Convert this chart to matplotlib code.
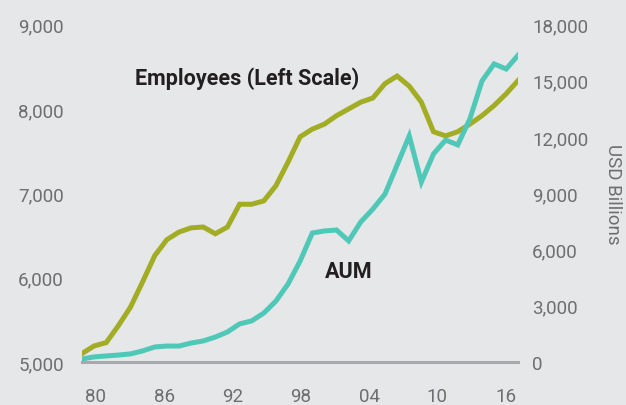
import matplotlib
matplotlib.use("Agg")
import matplotlib.pyplot as plt
import numpy as np

# employees (left scale) and AUM in USD billions (right scale), one value per year
employees = [5100, 5190, 5230, 5430, 5650, 5950, 6260, 6450, 6540, 6590,
             6600, 6520, 6600, 6870, 6870, 6910, 7090, 7370, 7670, 7760,
             7820, 7920, 8000, 8080, 8130, 8300, 8390, 8270, 8080, 7730,
             7680, 7730, 7820, 7920, 8040, 8180, 8340]
aum = [160, 270, 320, 370, 430, 590, 800, 850, 850, 1010,
       1120, 1330, 1600, 2030, 2190, 2610, 3250, 4160, 5390, 6880,
       6990, 7040, 6460, 7470, 8160, 8960, 10510, 12060, 9600, 11100,
       11840, 11580, 12960, 14990, 15900, 15630, 16380]
tick_labels = ["80", "86", "92", "98", "04", "10", "16"]
left_ticks = [5000, 6000, 7000, 8000, 9000]
right_ticks = [0, 3000, 6000, 9000, 12000, 15000, 18000]

bg = "#E6E7E8"
olive = "#A2AD24"
teal = "#4FC8B8"
grey = "#6D6E71"

plt.rcParams["font.family"] = ["Roboto", "DejaVu Sans"]

fig = plt.figure(figsize=(6.26, 4.06), dpi=100, facecolor=bg)
ax = fig.add_axes([0.131, 0.106, 0.697, 0.831], facecolor=bg)
ax2 = ax.twinx()

x = np.arange(len(employees))
ax.plot(x, employees, color=olive, lw=3.6, solid_joinstyle="miter", zorder=3)
ax2.plot(x, aum, color=teal, lw=3.6, solid_joinstyle="miter", zorder=3)

ax.set_xlim(0, len(employees) - 1)
ax.set_ylim(5000, 9000)
ax2.set_ylim(0, 18000)

ax.set_yticks(left_ticks)
ax.set_yticklabels([f"{v:,}" for v in left_ticks])
ax2.set_yticks(right_ticks)
ax2.set_yticklabels([f"{v:,}" for v in right_ticks])
ax.set_xticks(np.linspace(1.15, 34.95, len(tick_labels)))
ax.set_xticklabels(tick_labels)

for a in (ax, ax2):
    for s in a.spines.values():
        s.set_visible(False)
    a.tick_params(length=0, labelsize=13.5, labelcolor=grey)
ax.spines["bottom"].set_visible(True)
ax.spines["bottom"].set_color("#A7A9AC")
ax.spines["bottom"].set_linewidth(2.2)
ax.tick_params(axis="y", pad=13)
ax.tick_params(axis="x", pad=18)
ax2.tick_params(axis="y", pad=10)

ax2.set_ylabel("USD Billions", rotation=270, color=grey, fontsize=13.5,
               labelpad=24)

ax.text(13.6, 8370, "Employees (Left Scale)", fontsize=15.5, fontweight="bold",
        color="#231F20", ha="center", va="center")
ax2.text(22.0, 4850, "AUM", fontsize=15.5, fontweight="bold",
         color="#231F20", ha="center", va="center")

fig.savefig("out.png", dpi=100, facecolor=bg)
